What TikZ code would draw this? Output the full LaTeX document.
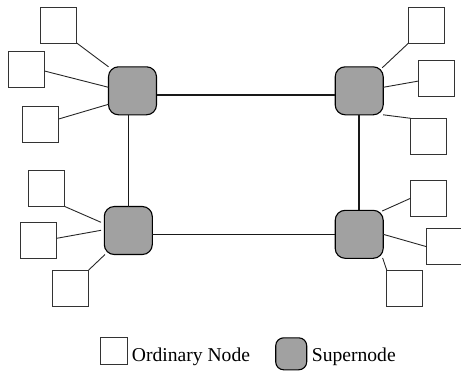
\documentclass[tikz,border=0pt]{standalone}
\usepackage{fontspec}
\setmainfont{Liberation Serif}
\begin{document}
\begin{tikzpicture}[x=1bp,y=-1bp,
  ordinary/.style={draw=black!80,line width=0.9bp,fill=white,minimum size=36bp,inner sep=0pt,outer sep=0pt},
  supernode/.style={draw=black,line width=1.1bp,fill=black!37,rounded corners=10bp,minimum size=48bp,inner sep=0pt,outer sep=0pt},
  leaf/.style={draw=black!85,line width=0.9bp},
  trunk/.style={draw=black!90,line width=1.6bp},
  label/.style={anchor=base west,inner sep=0pt,font=\fontsize{19.6bp}{22bp}\selectfont}]
\useasboundingbox (0,0) rectangle (461,371);

% supernodes
\node[supernode] (TL) at (132.5,90.8) {};
\node[supernode] (TR) at (359.2,90.8) {};
\node[supernode] (BL) at (128.3,230.5) {};
\node[supernode] (BR) at (359.2,234.3) {};

% backbone between supernodes
\draw[trunk] ([yshift=-4.2bp]TL.east) -- ([yshift=-4.2bp]TR.west);
\draw[trunk] (BL.north |- TL.south) -- (BL.north);
\draw[trunk] (TR.south) -- (BR.north);
\draw[trunk] (BR.west -| BL.east) -- (BR.west);

% ordinary nodes
\node[ordinary] (A) at (58.7,25) {};
\node[ordinary] (B) at (26.5,69) {};
\node[ordinary] (C) at (40.7,124.7) {};
\node[ordinary] (D) at (426.3,25.3) {};
\node[ordinary] (E) at (436.7,78.8) {};
\node[ordinary] (F) at (428.7,136.3) {};
\node[ordinary] (G) at (46.8,188.5) {};
\node[ordinary] (H) at (38.7,240.3) {};
\node[ordinary] (I) at (70.7,288) {};
\node[ordinary] (J) at (428.5,198.5) {};
\node[ordinary] (K) at (444.7,246.3) {};
\node[ordinary] (L) at (404.7,288) {};

% links to ordinary nodes
\draw[leaf] (A.south east) -- (TL.north west);
\draw[leaf] ([yshift=-2bp]B.east) -- ([yshift=3.5bp]TL.west);
\draw[leaf] ([yshift=5.7bp]C.east) -- ([yshift=-13.5bp]TL.west);
\draw[leaf] (D.south west) -- ([xshift=-1bp,yshift=-1bp]TR.north east);
\draw[leaf] ([yshift=-2.2bp]E.west) -- ([yshift=3.5bp]TR.east);
\draw[leaf] (F.north west) -- (TR.south east);
\draw[leaf] (G.south east) -- ([xshift=-3.3bp,yshift=8.2bp]BL.west);
\draw[leaf] ([yshift=2bp]H.east) -- ([xshift=-3.3bp,yshift=0.2bp]BL.west);
\draw[leaf] (I.north east) -- ([xshift=0.7bp]BL.south west);
\draw[leaf] ([yshift=0.2bp]J.west) -- ([xshift=-1bp,yshift=-0.7bp]BR.north east);
\draw[leaf] ([yshift=-0.4bp]K.west) -- (BR.east);
\draw[leaf] (L.north west) -- ([xshift=-0.6bp,yshift=0.4bp]BR.south east);

% legend
\node[ordinary,minimum size=27bp] (legOrd) at (114.2,351.3) {};
\node[label] (legOrdText) at (131.7,361.7) {Ordinary Node};
\node[supernode,minimum width=31bp,minimum height=32bp,rounded corners=8bp] (legSup) at (291.2,353.8) {};
\node[label] (legSupText) at (311.7,361.5) {Supernode};
\end{tikzpicture}
\end{document}
